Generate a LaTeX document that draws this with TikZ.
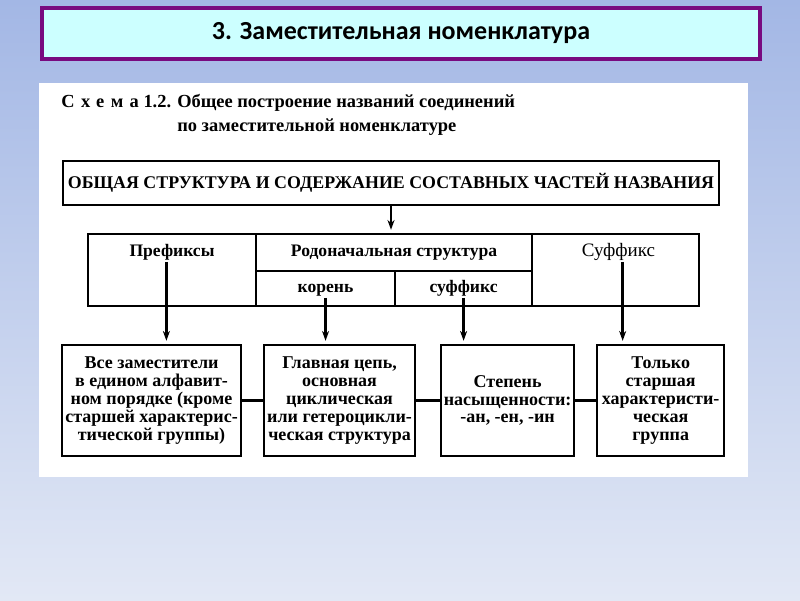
\documentclass[tikz,border=0pt]{standalone}
\usepackage{fontspec}
\setmainfont{Liberation Serif}
\newfontfamily\headfont{Carlito}
\usetikzlibrary{arrows.meta, positioning}

\definecolor{bgtop}{RGB}{163,183,229}
\definecolor{bgbot}{RGB}{226,232,245}
\definecolor{titlefill}{RGB}{204,255,255}
\definecolor{titledraw}{RGB}{120,10,128}

\begin{document}
\begin{tikzpicture}[
    x=0.025cm, y=-0.025cm,
    cell/.style={rectangle, draw=black, line width=1.7pt, inner sep=0pt, outer sep=0pt},
    box/.style={cell, align=center, minimum height=2.775cm, font=\bfseries\fontsize{12.8}{12.7}\selectfont},
    lbl/.style={font=\bfseries\fontsize{12.5}{14}\selectfont, inner sep=1pt, text height=8.5pt, text depth=2.5pt},
    arr/.style={draw, line width=1.7pt, shorten >=3pt, -{Stealth[length=7pt, width=5pt]}},
    link/.style={draw, line width=1.7pt},
]
    % Background
    \shade[top color=bgtop, bottom color=bgbot] (0,0) rectangle (800,600);
    \useasboundingbox (0,0) rectangle (800,600);

    % Title
    \node[draw=titledraw, line width=2.9pt, fill=titlefill, minimum width=17.95cm, minimum height=1.275cm,
          inner sep=0pt, font=\headfont\bfseries\fontsize{18.5}{21}\selectfont] (title) at (401,33.5)
          {3. Заместительная номенклатура};

    % Scheme panel
    \fill[white] (39,83) rectangle (748,477);
    \node[anchor=west, inner sep=0pt, font=\bfseries\fontsize{13.1}{16.8}\selectfont] (caption) at (61,115) {
        \begin{tabular}{@{}l@{ }l@{}}
        {\addfontfeature{LetterSpace=35}Схема} 1.2. & Общее построение названий соединений \\
        & по заместительной номенклатуре \\
        \end{tabular}
    };

    % Header
    \node[cell, minimum width=16.4cm, minimum height=1.1cm, font=\bfseries\fontsize{12.7}{14}\selectfont] (head) at (391,183)
        {ОБЩАЯ СТРУКТУРА И СОДЕРЖАНИЕ СОСТАВНЫХ ЧАСТЕЙ НАЗВАНИЯ};

    % Parts of the name
    \node[cell, anchor=north west, minimum width=4.2cm, minimum height=1.8cm] (pref) at (88,234) {};
    \node[cell, anchor=north west, minimum width=6.9cm, minimum height=0.925cm] (rod) at (pref.north east) {};
    \node[cell, anchor=north west, minimum width=3.475cm, minimum height=0.875cm] (kor) at (rod.south west) {};
    \node[cell, anchor=north west, minimum width=3.425cm, minimum height=0.875cm] (suf) at (kor.north east) {};
    \node[cell, anchor=north west, minimum width=4.175cm, minimum height=1.8cm] (sfx) at (rod.north east) {};

    \node[lbl] (tpref) at (pref |- rod) {Префиксы};
    \node[lbl] (trod) at (rod) {Родоначальная структура};
    \node[lbl, font=\fontsize{13.5}{14}\selectfont] (tsfx) at ([xshift=2pt]sfx |- rod) {Суффикс};
    \node[lbl] (tkor) at (kor) {корень};
    \node[lbl] (tsuf) at (suf) {суффикс};

    % Contents
    \node[box, anchor=north west, minimum width=4.475cm] (b1) at (62,345)
        {Все заместители\\в едином алфавит-\\ном порядке (кроме\\старшей характерис-\\тической группы)};
    \node[box, right=0.575cm of b1, minimum width=3.775cm] (b2)
        {Главная цепь,\\основная\\циклическая\\или гетероцикли-\\ческая структура};
    \node[box, right=0.65cm of b2, minimum width=3.325cm] (b3)
        {Степень\\насыщенности:\\-ан, -ен, -ин};
    \node[box, right=0.575cm of b3, minimum width=3.175cm] (b4)
        {Только\\старшая\\характеристи-\\ческая\\группа};

    % Arrows
    \draw[arr] (head.south) -- (head.south |- rod.north);
    \draw[arr] ([xshift=-4pt]tpref.south) -- ([xshift=-4pt]tpref.south |- b1.north);
    \draw[arr] (tkor.south) -- (tkor.south |- b2.north);
    \draw[arr] (tsuf.south) -- (tsuf.south |- b3.north);
    \draw[arr] ([xshift=3pt]tsfx.south) -- ([xshift=3pt]tsfx.south |- b4.north);

    % Links
    \draw[link] (b1) -- (b2);
    \draw[link] (b2) -- (b3);
    \draw[link] (b3) -- (b4);
\end{tikzpicture}
\end{document}
